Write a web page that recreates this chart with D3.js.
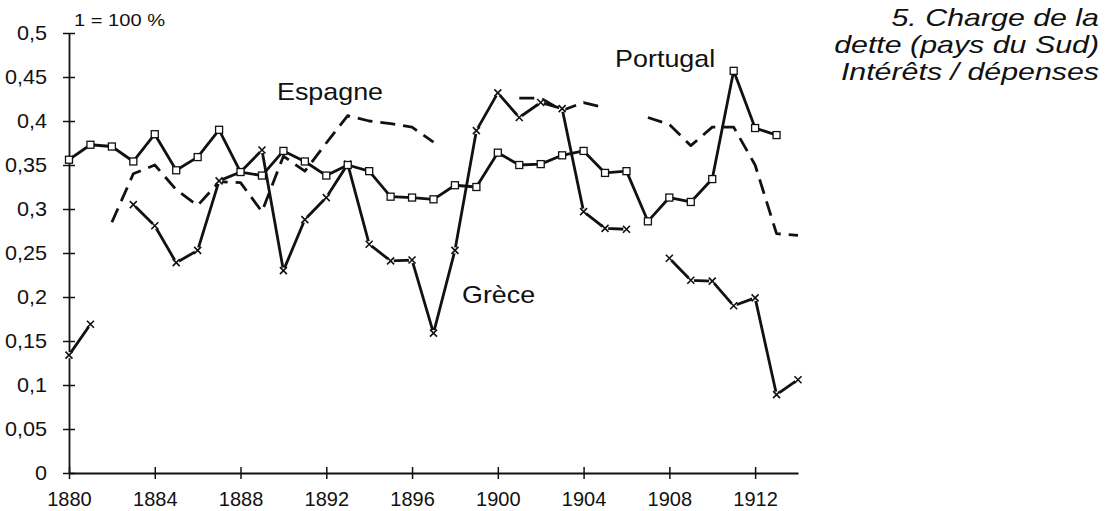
<!DOCTYPE html>
<html>
<head>
<meta charset="utf-8">
<script src="https://cdn.jsdelivr.net/npm/d3@7"></script>
<style>
  html, body { margin: 0; padding: 0; background: #fff; }
  svg { display: block; }
  text { font-family: "Liberation Sans", Arial, Helvetica, sans-serif; fill: #111; }
</style>
</head>
<body>
<svg id="chart" width="1108" height="511"></svg>
<script>
// ---- data ----
const years = d3.range(1880, 1915);
const portugal = [0.356, 0.373, 0.371, 0.354, 0.385, 0.344, 0.359, 0.390, 0.342, 0.338,
                  0.366, 0.354, 0.338, 0.350, 0.343, 0.314, 0.313, 0.311, 0.327, 0.325,
                  0.364, 0.350, 0.351, 0.361, 0.366, 0.341, 0.343, 0.286, 0.313, 0.308,
                  0.334, 0.457, 0.392, 0.384, null];
const grece = [0.134, 0.169, null, 0.305, 0.281, 0.239, 0.253, 0.332, 0.342, 0.367,
               0.230, 0.288, 0.313, 0.351, 0.260, 0.241, 0.242, 0.159, 0.253, 0.389,
               0.432, 0.404, 0.421, 0.414, 0.297, 0.278, 0.277, null, 0.244, 0.219,
               0.218, 0.190, 0.199, 0.089, 0.106];
const espagne = [null, null, 0.285, 0.340, 0.350, 0.322, 0.304, 0.331, 0.330, 0.297,
                 0.360, 0.343, 0.375, 0.406, 0.400, 0.397, 0.393, 0.376, null, null,
                 null, 0.426, 0.426, 0.412, 0.421, 0.415, null, 0.404, 0.396, 0.372,
                 0.393, 0.393, 0.350, 0.272, 0.270];
const yTickValues = [0, 0.05, 0.1, 0.15, 0.2, 0.25, 0.3, 0.35, 0.4, 0.45, 0.5];
const yTickLabels = ["0", "0,05", "0,1", "0,15", "0,2", "0,25", "0,3", "0,35", "0,4", "0,45", "0,5"];
const xTickValues = [1880, 1884, 1888, 1892, 1896, 1900, 1904, 1908, 1912];
const xTickLabels = ["1880", "1884", "1888", "1892", "1896", "1900", "1904", "1908", "1912"];
const titleLines = ["5. Charge de la", "dette (pays du Sud)", "Intérêts / dépenses"];
const unitLabel = "1 = 100 %";
const seriesLabels = [
  {name: "Espagne", year: 1889.7, value: 0.424},
  {name: "Portugal", year: 1905.47, value: 0.461},
  {name: "Grèce", year: 1898.33, value: 0.193}
];

// ---- layout ----
const svg = d3.select("#chart");
const x = d3.scaleLinear().domain([1880, 1914]).range([69, 798]);
const y = d3.scaleLinear().domain([0, 0.5]).range([473, 33]);
const ink = "#111";

// axes
const yAxis = d3.axisLeft(y).tickValues(yTickValues)
  .tickFormat((d, i) => yTickLabels[i]).tickSizeInner(6).tickSizeOuter(0).tickPadding(16);
const gy = svg.append("g").attr("transform", `translate(${x(1880)},0)`).call(yAxis);
gy.select(".domain").attr("stroke", ink).attr("stroke-width", 1.8);
gy.selectAll(".tick line").attr("x1", 6).attr("stroke", ink).attr("stroke-width", 1.5);
gy.selectAll(".tick text").attr("font-size", 20).attr("fill", ink)
  .attr("font-family", "Liberation Sans, Arial, sans-serif")
  .each(function() {
    const t = d3.select(this);
    const xx = +t.attr("x");
    t.attr("x", 0).attr("transform", `translate(${xx},0) scale(1.08,1)`);
  });

const xAxis = d3.axisBottom(x).tickValues(xTickValues)
  .tickFormat((d, i) => xTickLabels[i]).tickSizeInner(6).tickSizeOuter(0).tickPadding(13);
const gx = svg.append("g").attr("transform", `translate(0,${y(0)})`).call(xAxis);
gx.select(".domain").attr("stroke", ink).attr("stroke-width", 1.8);
gx.selectAll(".tick line").attr("y1", -6).attr("stroke", ink).attr("stroke-width", 1.5);
gx.selectAll(".tick text").attr("font-size", 20).attr("fill", ink)
  .attr("font-family", "Liberation Sans, Arial, sans-serif");

// lines
const line = d3.line()
  .defined(d => d.v !== null)
  .x(d => x(d.year)).y(d => y(d.v));
const toPts = arr => years.map((yr, i) => ({year: yr, v: arr[i]}));

svg.append("path").datum(toPts(espagne))
  .attr("d", line).attr("fill", "none").attr("stroke", ink)
  .attr("stroke-width", 2.8).attr("stroke-dasharray", "15,8").attr("stroke-linejoin", "round");

svg.append("path").datum(toPts(grece))
  .attr("d", line).attr("fill", "none").attr("stroke", ink)
  .attr("stroke-width", 2.8).attr("stroke-linejoin", "round");

svg.append("path").datum(toPts(portugal))
  .attr("d", line).attr("fill", "none").attr("stroke", ink)
  .attr("stroke-width", 2.8).attr("stroke-linejoin", "round");

// Greece markers: x crosses
const gPts = toPts(grece).filter(d => d.v !== null);
const gm = svg.append("g").selectAll("g").data(gPts).join("g")
  .attr("transform", d => `translate(${x(d.year)},${y(d.v)})`);
gm.append("circle").attr("r", 3.2).attr("fill", "#fff");
gm.append("path").attr("d", "M-3.5,-3.5L3.5,3.5M-3.5,3.5L3.5,-3.5")
  .attr("stroke", ink).attr("stroke-width", 1.6).attr("fill", "none");

// Portugal markers: open squares
const pPts = toPts(portugal).filter(d => d.v !== null);
svg.append("g").selectAll("rect").data(pPts).join("rect")
  .attr("x", d => x(d.year) - 3.5).attr("y", d => y(d.v) - 3.5)
  .attr("width", 7).attr("height", 7)
  .attr("fill", "#fff").attr("stroke", ink).attr("stroke-width", 1.3);

// series labels
svg.append("g").selectAll("text").data(seriesLabels).join("text")
  .attr("transform", d => `translate(${x(d.year)},${y(d.value)}) scale(1.12,1)`)
  .attr("font-size", 24).attr("fill", ink)
  .text(d => d.name);

// unit label
svg.append("text")
  .attr("transform", `translate(74,26) scale(1.22,1)`)
  .attr("font-size", 16.5).attr("fill", ink).text(unitLabel);

// title
const tg = svg.append("g");
titleLines.forEach((s, i) => {
  tg.append("text")
    .attr("transform", `translate(1099,${26 + i * 27}) scale(1.32,1)`)
    .attr("text-anchor", "end").attr("font-style", "italic")
    .attr("font-size", 23).attr("fill", ink).text(s);
});
</script>
</body>
</html>
